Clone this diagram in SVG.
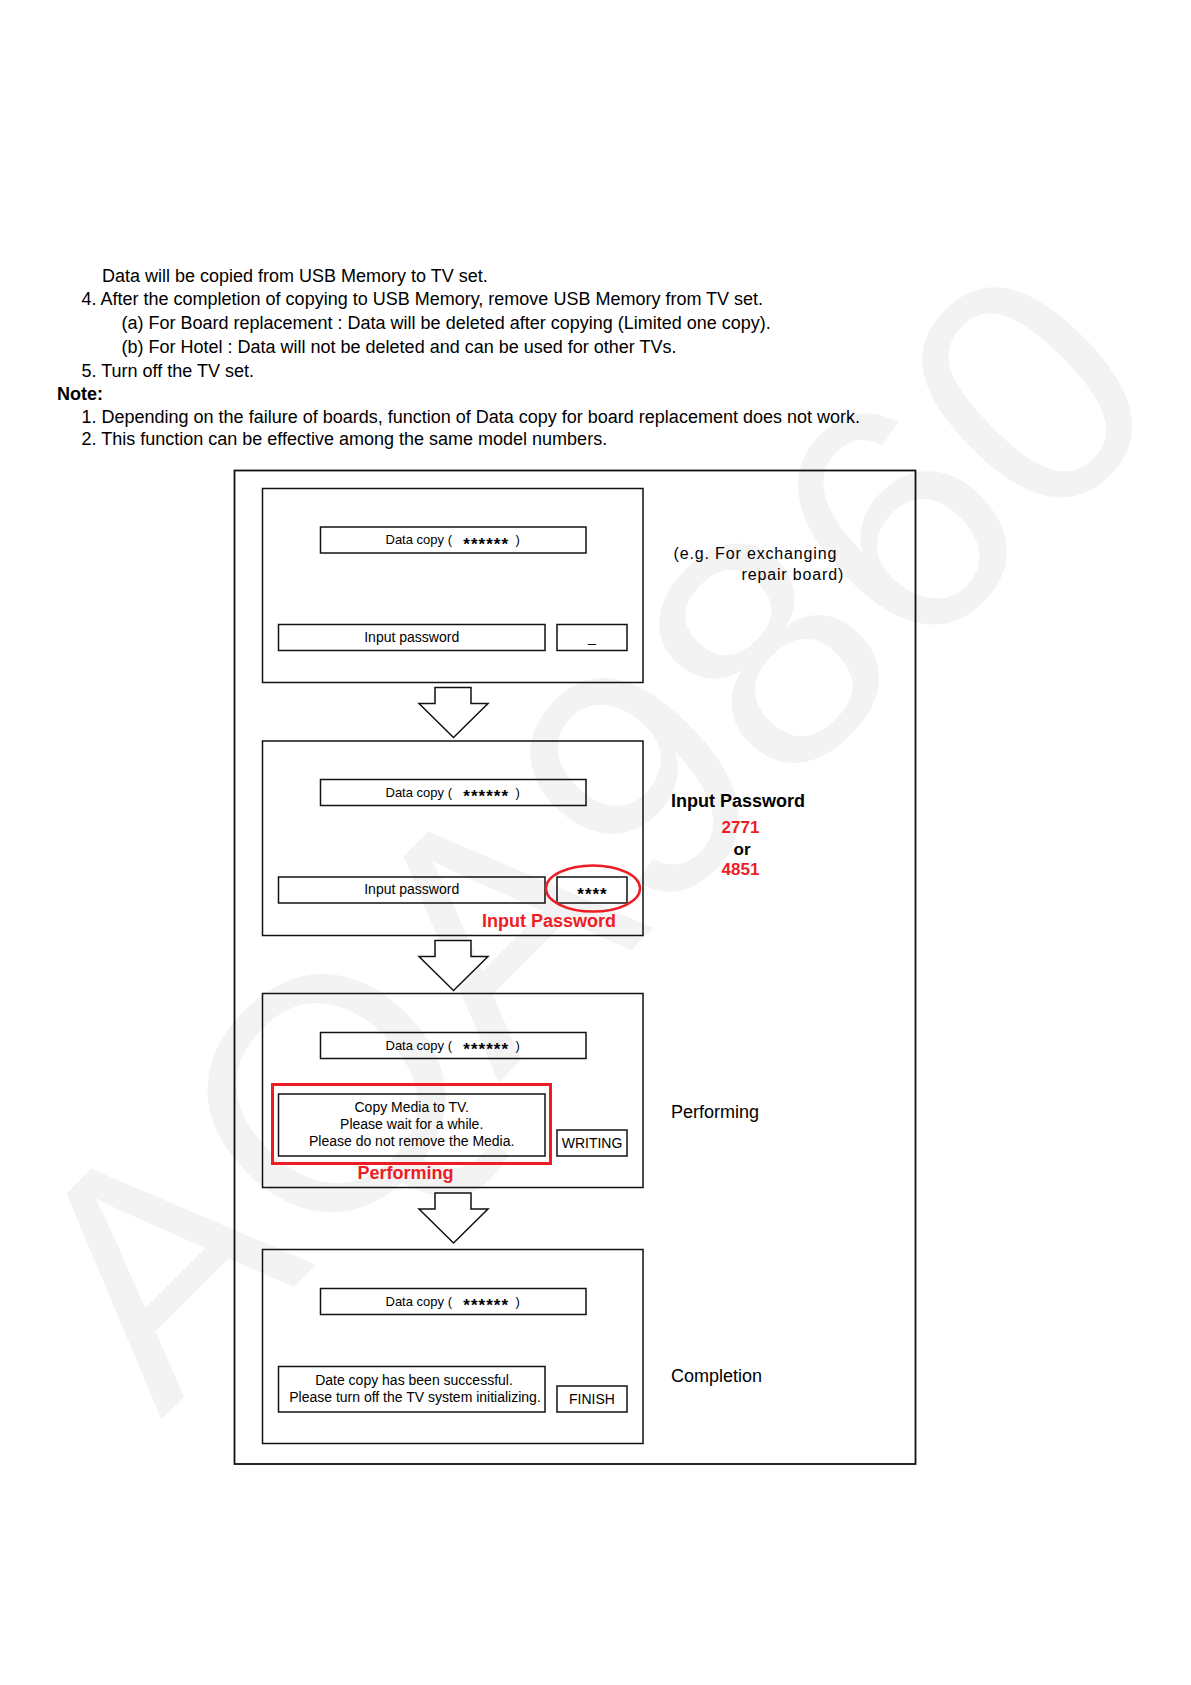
<svg xmlns="http://www.w3.org/2000/svg" width="1191" height="1685" viewBox="0 0 1191 1685">
<style>
text{font-family:"Liberation Sans",Arial,sans-serif;fill:#000}
.body{font-size:18px}
.scr{font-size:14px}
.dc{font-size:13px}
.ast{font-size:17px;font-weight:bold;letter-spacing:1px}
.box{fill:none;stroke:#111;stroke-width:1.5}
.arrow{fill:#fff;stroke:#111;stroke-width:1.5;stroke-linejoin:miter}
.red{fill:#ee1c25;font-weight:bold;font-size:18px}
.lbl{font-size:18px}
.wm{font-size:330px;fill:#f3f3f3}
</style>

<g id="watermark">
<text class="wm" transform="translate(161,1420) rotate(-45)">AQA9860</text>
</g>

<g id="intro-text">
<text class="body" x="102" y="281.5">Data will be copied from USB Memory to TV set.</text>
<text class="body" x="81.5" y="305">4. After the completion of copying to USB Memory, remove USB Memory from TV set.</text>
<text class="body" x="121.5" y="328.5">(a) For Board replacement : Data will be deleted after copying (Limited one copy).</text>
<text class="body" x="121.5" y="352.5">(b) For Hotel : Data will not be deleted and can be used for other TVs.</text>
<text class="body" x="81.5" y="376.5">5. Turn off the TV set.</text>
<text class="body" x="57" y="400" font-weight="bold">Note:</text>
<text class="body" x="81.5" y="422.5">1. Depending on the failure of boards, function of Data copy for board replacement does not work.</text>
<text class="body" x="81.5" y="445">2. This function can be effective among the same model numbers.</text>
</g>

<g id="frame">
<rect x="234.5" y="470.5" width="681" height="993.5" fill="none" stroke="#111" stroke-width="1.8"/>
</g>

<g id="screen1">
<rect class="box" x="262.5" y="488.5" width="380.5" height="194"/>
<rect class="box" x="320.5" y="527" width="265.5" height="26"/>
<text class="dc" y="544.3"><tspan x="385.5">Data copy (</tspan><tspan class="ast" x="463.3" dy="5.5">******</tspan><tspan x="515.5" dy="-5.5">)</tspan></text>
<rect class="box" x="278.5" y="624.5" width="266.5" height="26"/>
<text class="scr" x="411.7" y="641.8" text-anchor="middle">Input password</text>
<rect class="box" x="557" y="624.5" width="70" height="26"/>
<text class="scr" x="592" y="641.8" text-anchor="middle">_</text>
</g>

<g id="screen2">
<rect class="box" x="262.5" y="741" width="380.5" height="194.5"/>
<rect class="box" x="320.5" y="779.5" width="265.5" height="26"/>
<text class="dc" y="796.8"><tspan x="385.5">Data copy (</tspan><tspan class="ast" x="463.3" dy="5.5">******</tspan><tspan x="515.5" dy="-5.5">)</tspan></text>
<rect class="box" x="278.5" y="877" width="266.5" height="26"/>
<text class="scr" x="411.7" y="894.3" text-anchor="middle">Input password</text>
<rect class="box" x="557" y="877" width="70" height="26"/>
<text class="ast" x="592.5" y="899.8" text-anchor="middle">****</text>
<ellipse cx="593" cy="888.5" rx="47" ry="23" fill="none" stroke="#ee1c25" stroke-width="2.5"/>
<text class="red" x="482" y="927">Input Password</text>
</g>

<g id="screen3">
<rect class="box" x="262.5" y="993.5" width="380.5" height="194"/>
<rect class="box" x="320.5" y="1032.5" width="265.5" height="26"/>
<text class="dc" y="1049.8"><tspan x="385.5">Data copy (</tspan><tspan class="ast" x="463.3" dy="5.5">******</tspan><tspan x="515.5" dy="-5.5">)</tspan></text>
<rect x="272.5" y="1084.5" width="278" height="79" fill="none" stroke="#ee1c25" stroke-width="3"/>
<rect class="box" x="278.5" y="1094" width="266.5" height="62"/>
<text class="scr" x="411.7" y="1112.3" text-anchor="middle">Copy Media to TV.</text>
<text class="scr" x="411.7" y="1129.2" text-anchor="middle">Please wait for a while.</text>
<text class="scr" x="411.7" y="1146" text-anchor="middle">Please do not remove the Media.</text>
<rect class="box" x="557" y="1130" width="70" height="26"/>
<text class="scr" x="592" y="1147.8" text-anchor="middle">WRITING</text>
<text class="red" x="357.5" y="1179.3">Performing</text>
</g>

<g id="screen4">
<rect class="box" x="262.5" y="1249.5" width="380.5" height="194"/>
<rect class="box" x="320.5" y="1288.5" width="265.5" height="26"/>
<text class="dc" y="1305.8"><tspan x="385.5">Data copy (</tspan><tspan class="ast" x="463.3" dy="5.5">******</tspan><tspan x="515.5" dy="-5.5">)</tspan></text>
<rect class="box" x="278.5" y="1366.5" width="266.5" height="45.5"/>
<text class="scr" x="414" y="1384.5" text-anchor="middle">Date copy has been successful.</text>
<text class="scr" x="415" y="1402" text-anchor="middle">Please turn off the TV system initializing.</text>
<rect class="box" x="557" y="1386" width="70" height="26"/>
<text class="scr" x="592" y="1403.6" text-anchor="middle">FINISH</text>
</g>

<g id="connectors">
<polygon class="arrow" points="435,687.5 471,687.5 471,703.5 488,703.5 453.5,737.5 419,703.5 435,703.5"/>
<polygon class="arrow" points="435,940.5 471,940.5 471,956.5 488,956.5 453.5,990.5 419,956.5 435,956.5"/>
<polygon class="arrow" points="435,1193 471,1193 471,1209 488,1209 453.5,1243 419,1209 435,1209"/>
</g>

<g id="side-labels">
<text x="673.5" y="559" font-size="16" letter-spacing="0.85">(e.g. For exchanging</text>
<text x="741.5" y="580" font-size="16" letter-spacing="0.85">repair board)</text>
<text class="lbl" x="671" y="806.7" font-weight="bold">Input Password</text>
<text x="740.5" y="833" font-size="17" font-weight="bold" text-anchor="middle" style="fill:#ee1c25">2771</text>
<text x="742" y="855" font-size="17" font-weight="bold" text-anchor="middle">or</text>
<text x="740.5" y="875" font-size="17" font-weight="bold" text-anchor="middle" style="fill:#ee1c25">4851</text>
<text class="lbl" x="671" y="1117.7">Performing</text>
<text class="lbl" x="671" y="1381.7">Completion</text>
</g>
</svg>
